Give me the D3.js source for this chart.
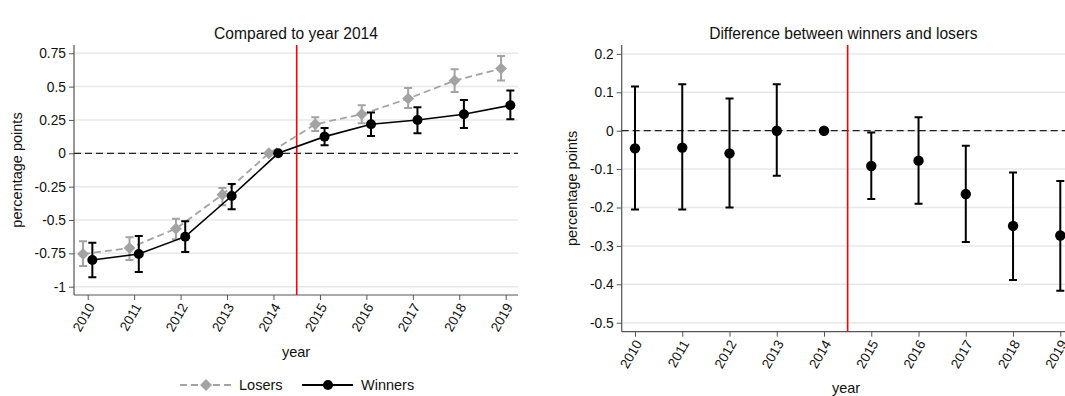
<!DOCTYPE html>
<html><head><meta charset="utf-8">
<script src="https://cdn.jsdelivr.net/npm/d3@7"></script>
<style>body{margin:0;background:#fff}svg{display:block;font-family:"Liberation Sans",Arial,sans-serif}</style>
</head><body><svg id="c" width="1065" height="396"></svg>
<script>
const years = [2010,2011,2012,2013,2014,2015,2016,2017,2018,2019];
const leftTicks = [0.75,0.5,0.25,0,-0.25,-0.5,-0.75,-1];
const rightTicks = [0.2,0.1,0,-0.1,-0.2,-0.3,-0.4,-0.5];
const losers    = [-0.755,-0.71,-0.565,-0.31,0,0.218,0.293,0.41,0.545,0.635];
const losersLo  = [-0.845,-0.80,-0.645,-0.39,0,0.167,0.225,0.34,0.46,0.545];
const losersHi  = [-0.66,-0.63,-0.49,-0.26,0,0.27,0.36,0.49,0.63,0.73];
const winners   = [-0.80,-0.755,-0.625,-0.32,0,0.125,0.218,0.25,0.293,0.36];
const winnersLo = [-0.93,-0.89,-0.74,-0.42,0,0.06,0.13,0.15,0.19,0.255];
const winnersHi = [-0.67,-0.62,-0.51,-0.23,0,0.19,0.305,0.345,0.40,0.47];
const diff   = [-0.046,-0.044,-0.059,0,0,-0.092,-0.078,-0.165,-0.248,-0.273];
const diffLo = [-0.205,-0.205,-0.2,-0.117,null,-0.178,-0.19,-0.29,-0.389,-0.417];
const diffHi = [0.115,0.121,0.084,0.121,null,-0.005,0.035,-0.039,-0.109,-0.131];

const svg = d3.select("#c");
const grey = "#a3a3a3";

function panel(o){
  const g = svg.append("g");
  const x = d3.scaleLinear().domain([2010,2019]).range(o.xr);
  const y = d3.scaleLinear().domain(o.yd).range(o.yr);
  g.selectAll(".gl").data(o.ticks).enter().append("line")
    .attr("x1",o.left).attr("x2",o.right).attr("y1",d=>y(d)).attr("y2",d=>y(d))
    .attr("stroke","#e8e8e8").attr("stroke-width",1.5);
  const ya = g.append("g").attr("transform",`translate(${o.left},0)`)
    .call(d3.axisLeft(y).tickValues(o.ticks).tickSize(5).tickPadding(3).tickFormat(d=>String(+d.toFixed(2))));
  ya.select(".domain").attr("d",`M0,${o.top}V${o.bottom}`).attr("stroke","#555").attr("stroke-width",1.2);
  ya.selectAll(".tick line").attr("stroke","#555");
  ya.selectAll(".tick text").attr("font-size",13.8).attr("fill","#111");
  const xa = g.append("g").attr("transform",`translate(0,${o.bottom})`)
    .call(d3.axisBottom(x).tickValues(years).tickSize(5).tickFormat(d3.format("d")));
  xa.select(".domain").attr("d",`M${o.left},0H${o.right}`).attr("stroke","#555").attr("stroke-width",1.2);
  xa.selectAll(".tick line").attr("stroke","#555");
  xa.selectAll(".tick text").attr("font-size",13.5).attr("fill","#111")
    .attr("text-anchor","end").attr("dy",null).attr("y",0)
    .attr("transform","translate(4,10) rotate(-60)").attr("dominant-baseline","middle");
  g.append("line").attr("x1",o.left).attr("x2",o.right).attr("y1",y(0)).attr("y2",y(0))
    .attr("stroke","#222").attr("stroke-width",1.3).attr("stroke-dasharray","7,4");
  g.append("line").attr("x1",x(2014.5)).attr("x2",x(2014.5)).attr("y1",o.top).attr("y2",o.bottom)
    .attr("stroke","#ff0000").attr("stroke-width",1.6);
  g.append("text").attr("x",(o.left+o.right)/2).attr("y",39).attr("text-anchor","middle")
    .attr("font-size",15.6).attr("fill","#111").text(o.title);
  g.append("text").attr("transform",`translate(${o.ylx},${(o.top+o.bottom)/2}) rotate(-90)`)
    .attr("text-anchor","middle").attr("font-size",14.5).attr("fill","#111").text("percentage points");
  g.append("text").attr("x",o.xlx).attr("y",o.xly).attr("text-anchor","middle")
    .attr("font-size",14.5).attr("fill","#111").text("year");
  return {g,x,y};
}

function errbars(g,x,y,off,lo,hi,color){
  years.forEach((yr,i)=>{
    if(lo[i]==null||lo[i]===hi[i]) return;
    const cx=x(yr+off);
    g.append("path").attr("d",`M${cx},${y(lo[i])}V${y(hi[i])}M${cx-4},${y(lo[i])}H${cx+4}M${cx-4},${y(hi[i])}H${cx+4}`)
      .attr("stroke",color).attr("stroke-width",2).attr("fill","none");
  });
}

const L = panel({xr:[87.7,505.7], yd:[0,-1], yr:[153.3,286.7], ticks:leftTicks,
  left:74, right:518, top:45, bottom:295, title:"Compared to year 2014", ylx:22, xlx:296, xly:357});
const off = 0.1;
errbars(L.g,L.x,L.y,-off,losersLo,losersHi,grey);
L.g.append("path").datum(losers)
  .attr("d",d3.line().x((d,i)=>L.x(years[i]-off)).y(d=>L.y(d)))
  .attr("fill","none").attr("stroke",grey).attr("stroke-width",1.8).attr("stroke-dasharray","7,4");
L.g.selectAll(".dm").data(losers).enter().append("path")
  .attr("d",d3.symbol(d3.symbolDiamond2,90))
  .attr("transform",(d,i)=>`translate(${L.x(years[i]-off)},${L.y(d)})`).attr("fill",grey);
errbars(L.g,L.x,L.y,off,winnersLo,winnersHi,"#000");
L.g.append("path").datum(winners)
  .attr("d",d3.line().x((d,i)=>L.x(years[i]+off)).y(d=>L.y(d)))
  .attr("fill","none").attr("stroke","#000").attr("stroke-width",1.6);
L.g.selectAll(".ci").data(winners).enter().append("circle")
  .attr("cx",(d,i)=>L.x(years[i]+off)).attr("cy",d=>L.y(d)).attr("r",5).attr("fill","#000");

const R = panel({xr:[635,1060.3], yd:[0,-0.1], yr:[130.7,169.1], ticks:rightTicks,
  left:621.7, right:1065, top:45, bottom:331.7, title:"Difference between winners and losers", ylx:577, xlx:846, xly:393});
errbars(R.g,R.x,R.y,0,diffLo,diffHi,"#000");
R.g.selectAll(".cr").data(diff).enter().append("circle")
  .attr("cx",(d,i)=>R.x(years[i])).attr("cy",d=>R.y(d)).attr("r",5.2).attr("fill","#000");

const lg = svg.append("g");
lg.append("line").attr("x1",180).attr("x2",232).attr("y1",385).attr("y2",385)
  .attr("stroke",grey).attr("stroke-width",1.8).attr("stroke-dasharray","7,4");
lg.append("path").attr("d",d3.symbol(d3.symbolDiamond2,90)).attr("transform","translate(206,385)").attr("fill",grey);
lg.append("text").attr("x",239).attr("y",390).attr("font-size",14.5).attr("fill","#111").text("Losers");
lg.append("line").attr("x1",302).attr("x2",353).attr("y1",385).attr("y2",385).attr("stroke","#000").attr("stroke-width",1.8);
lg.append("circle").attr("cx",328).attr("cy",385).attr("r",5).attr("fill","#000");
lg.append("text").attr("x",361).attr("y",390).attr("font-size",14.5).attr("fill","#111").text("Winners");
</script></body></html>
